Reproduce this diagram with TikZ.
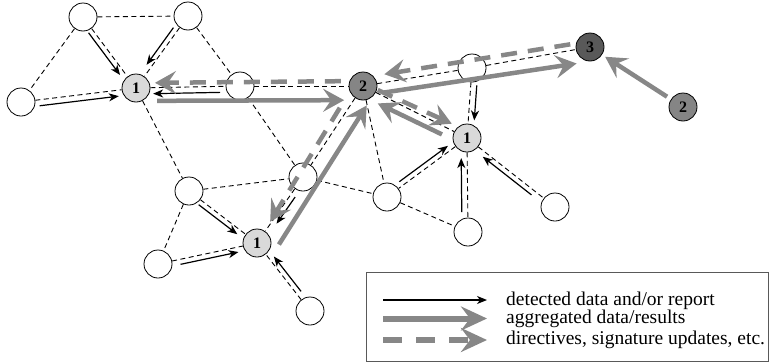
\documentclass[tikz,border=0pt]{standalone}
\usepackage{fontspec}
\setmainfont{Liberation Serif}
\usetikzlibrary{arrows.meta,calc}

\definecolor{aggr}{gray}{0.53}
\definecolor{lvlone}{gray}{0.85}
\definecolor{lvltwo}{gray}{0.52}
\definecolor{lvlthree}{gray}{0.35}
\definecolor{framegray}{gray}{0.35}

\tikzset{
  sensor/.style={circle, draw=black, line width=0.8pt, fill=white, minimum size=28pt, inner sep=0pt},
  head/.style={sensor, font=\fontsize{16}{16}\selectfont\bfseries},
  lone/.style={head, fill=lvlone},
  ltwo/.style={head, fill=lvltwo},
  lthree/.style={head, fill=lvlthree},
  link/.style={draw=black, line width=0.9pt, dash pattern=on 5pt off 3.5pt},
  detect/.style={draw=black, line width=1.2pt, -{Stealth[length=10pt,width=8pt,inset=3pt]}},
  aggregate/.style={draw=aggr, line width=4.5pt, -{Stealth[length=21pt,width=23pt,inset=8pt]}},
  directive/.style={aggregate, dash pattern=on 16pt off 11pt},
  keyarrow/.style={line width=6pt, -{Stealth[length=26pt,width=24pt,inset=9pt]}},
  legendtext/.style={anchor=base west, inner sep=0pt, font=\fontsize{19.5}{19.5}\selectfont},
}

% flow arrow running beside the straight line between two nodes:
% #1 style, #2 source, #3 target, #4 gap at source, #5 side offset at source,
% #6 gap at target, #7 side offset at target (positive = left of travel)
\newcommand{\flow}[7]{%
  \draw[#1] ($(#2)!#4!(#3)!#5!90:(#3)$) -- ($(#3)!#6!(#2)!#7!-90:(#2)$);}

\begin{document}
\begin{tikzpicture}[x=1pt, y=-1pt]
\useasboundingbox (0,0) rectangle (769,362);

% sensor nodes and cluster heads
\node[sensor] (A) at (83,17) {};
\node[sensor] (B) at (188,16) {};
\node[sensor] (C) at (21,102) {};
\node[lone] (P1) at (136,88) {1};
\node[sensor] (D) at (240,86) {};
\node[ltwo] (Q) at (363,86) {2};
\node[sensor] (E) at (472,68) {};
\node[lthree] (R) at (590,47) {3};
\node[ltwo] (Q2) at (683,107) {2};
\node[lone] (P2) at (467,138) {1};
\node[sensor] (F) at (189,191) {};
\node[sensor] (G) at (303,177) {};
\node[sensor] (H) at (387,197) {};
\node[sensor] (I) at (555,207) {};
\node[sensor] (J) at (468,232) {};
\node[lone] (P3) at (257,243) {1};
\node[sensor] (K) at (158,264) {};
\node[sensor] (L) at (310,311) {};

% radio links
\foreach \u/\v in {A/B, A/C, A/P1, B/P1, B/D, C/P1, P1/D, P1/F, D/Q, D/G, Q/G, Q/H,
                   Q/P2, Q/E, E/R, E/P2, P2/H, P2/J, P2/I, F/G, F/K, F/P3, G/H, G/P3,
                   K/P3, L/P3, H/J}
  \draw[link] (\u) -- (\v);

% detected data and reports
\flow{detect}{A}{P1}{16pt}{-5pt}{20pt}{-5pt}
\flow{detect}{B}{P1}{18pt}{-5pt}{25pt}{-5pt}
\flow{detect}{C}{P1}{18pt}{-6pt}{18pt}{-6pt}
\flow{detect}{D}{P1}{20pt}{6pt}{17pt}{6pt}
\flow{detect}{E}{P2}{17pt}{6pt}{18pt}{6pt}
\flow{detect}{H}{P2}{19pt}{5pt}{20pt}{5pt}
\flow{detect}{J}{P2}{20pt}{6pt}{20pt}{6pt}
\flow{detect}{I}{P2}{26pt}{5pt}{24pt}{5pt}
\flow{detect}{F}{P3}{16pt}{-5pt}{21pt}{-5pt}
\flow{detect}{G}{P3}{21pt}{5pt}{27pt}{5pt}
\flow{detect}{K}{P3}{22pt}{-5pt}{20pt}{-5pt}
\flow{detect}{L}{P3}{21pt}{-5pt}{21pt}{-5pt}

% aggregated data towards higher levels
\flow{aggregate}{P1}{Q}{21pt}{-13pt}{19pt}{-14pt}
\flow{aggregate}{P3}{Q}{11pt}{-19pt}{14pt}{-14pt}
\flow{aggregate}{P2}{Q}{24pt}{8pt}{21pt}{9pt}
\flow{aggregate}{Q}{R}{20pt}{-10pt}{16pt}{-14pt}
\flow{aggregate}{Q2}{R}{19pt}{0pt}{18pt}{0pt}

% directives sent downwards
\flow{directive}{R}{Q}{19pt}{-6pt}{23pt}{-8pt}
\flow{directive}{Q}{P1}{22pt}{-5pt}{19pt}{-5pt}
\flow{directive}{Q}{P3}{31pt}{-7pt}{25pt}{-1pt}
\flow{directive}{Q}{P2}{15pt}{3pt}{20pt}{6pt}

% legend
\draw[framegray, line width=1pt] (366,272) rectangle (768,361);
\coordinate (ka) at (383,300);   \coordinate (kb) at (487,300);
\coordinate (kc) at (383,318.5); \coordinate (kd) at (487,318.5);
\coordinate (ke) at (383,340);   \coordinate (kf) at (487,340);
\draw[detect] (ka) -- (kb);
\draw[aggregate, keyarrow] (kc) -- (kd);
\draw[directive, keyarrow, dash pattern=on 19pt off 14pt] (ke) -- (kf);
\node[legendtext] (t1) at (506,305) {detected data and/or report};
\node[legendtext] (t2) at (506,323.5) {aggregated data/results};
\node[legendtext] (t3) at (506,344.5) {directives, signature updates, etc.};
\end{tikzpicture}
\end{document}
